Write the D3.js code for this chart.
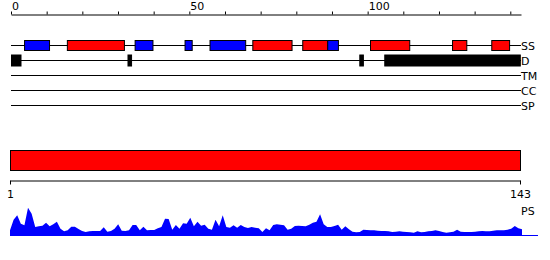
<!DOCTYPE html>
<html>
<head>
<meta charset="utf-8">
<script src="https://cdn.jsdelivr.net/npm/d3@7"></script>
<style>
  html, body { margin: 0; padding: 0; background: #fff; }
  svg { display: block; }
  text { font-family: "DejaVu Sans", Verdana, sans-serif; font-size: 11px; fill: #000; }
</style>
</head>
<body>
<svg id="chart" width="550" height="260"></svg>
<script>
// ---------- data ----------
const seqLength = 143;
const topTicks = [0, 10, 20, 30, 40, 50, 60, 70, 80, 90, 100, 110, 120, 130, 140];
const topTickLabels = [0, 50, 100];
const trackNames = ["SS", "D", "TM", "CC", "SP"];
// secondary structure elements: residue start, end (inclusive), type (H = red, E = blue)
const ssStart = [5, 17, 36, 50, 57, 69, 83, 90, 102, 125, 136];
const ssEnd   = [11, 32, 40, 51, 66, 79, 89, 92, 112, 128, 140];
const ssType  = ["E", "H", "E", "E", "E", "H", "H", "E", "H", "H", "H"];
// disordered regions
const disStart = [1, 34, 99, 106];
const disEnd   = [3, 34, 99, 143];
// domain bar
const domainStart = [1];
const domainEnd = [143];
const bottomTicks = [1, 143];
// PS profile, one value per residue
const psValues = [
  0.17,0.49,0.62,0.37,0.32,0.85,0.67,0.27,0.29,0.31,
  0.40,0.29,0.35,0.43,0.22,0.14,0.17,0.28,0.28,0.21,
  0.15,0.12,0.14,0.15,0.15,0.15,0.26,0.13,0.15,0.22,
  0.35,0.16,0.15,0.17,0.33,0.33,0.17,0.28,0.17,0.18,
  0.18,0.23,0.27,0.52,0.51,0.19,0.33,0.22,0.38,0.37,
  0.55,0.29,0.43,0.31,0.34,0.22,0.19,0.49,0.29,0.62,
  0.27,0.25,0.32,0.25,0.33,0.27,0.24,0.27,0.25,0.23,
  0.12,0.23,0.17,0.33,0.35,0.34,0.32,0.19,0.22,0.30,
  0.31,0.30,0.29,0.34,0.40,0.43,0.65,0.35,0.27,0.27,
  0.30,0.34,0.19,0.29,0.20,0.13,0.11,0.12,0.19,0.18,
  0.17,0.17,0.16,0.15,0.15,0.14,0.12,0.13,0.14,0.13,
  0.12,0.11,0.10,0.14,0.11,0.12,0.14,0.15,0.17,0.15,
  0.12,0.10,0.11,0.13,0.19,0.13,0.12,0.12,0.12,0.13,
  0.14,0.15,0.14,0.14,0.16,0.17,0.17,0.17,0.19,0.22,
  0.30,0.23,0.20
];

const colors = { H: "#ff0000", E: "#0000ff" };

// ---------- drawing ----------
const svg = d3.select("#chart");

const x = d3.scaleLinear().domain([0, seqLength]).range([11, 521]);
const trackY = d3.scalePoint().domain(trackNames).range([45.5, 105.5]);

// top axis
const topAxis = d3.axisTop(x)
  .tickValues(topTicks)
  .tickSize(3)
  .tickSizeOuter(0)
  .tickPadding(2)
  .tickFormat(d => topTickLabels.includes(d) ? d : "");
const gTop = svg.append("g").attr("transform", "translate(0,14.5)").call(topAxis);
gTop.select(".domain").attr("stroke", "#000");
gTop.selectAll(".tick line").attr("stroke", "#000");
gTop.selectAll(".tick text")
  .attr("text-anchor", "start")
  .attr("x", 0.5)
  .style("font-family", "'DejaVu Sans', Verdana, sans-serif")
  .style("font-size", "11px")
  .attr("fill", "#000");

// track lines and labels
const tracks = svg.append("g");
tracks.selectAll("line")
  .data(trackNames).join("line")
  .attr("x1", x(0)).attr("x2", x(seqLength))
  .attr("y1", d => trackY(d)).attr("y2", d => trackY(d))
  .attr("stroke", "#000").attr("stroke-width", 1);
tracks.selectAll("text")
  .data(trackNames).join("text")
  .attr("x", x(seqLength))
  .attr("y", d => trackY(d) + 4)
  .text(d => d);

// SS elements
const ss = ssStart.map((s, i) => ({ start: s, end: ssEnd[i], type: ssType[i] }));
svg.append("g").selectAll("rect")
  .data(ss).join("rect")
  .attr("x", d => x(d.start - 1) - 0.7)
  .attr("width", d => x(d.end) - x(d.start - 1))
  .attr("y", trackY("SS") - 5)
  .attr("height", 10)
  .attr("fill", d => colors[d.type])
  .attr("stroke", "#000").attr("stroke-width", 1);

// disorder
const dis = disStart.map((s, i) => ({ start: s, end: disEnd[i] }));
svg.append("g").selectAll("rect")
  .data(dis).join("rect")
  .attr("x", d => Math.max(x(d.start - 1) - 0.7, x(0) + 0.5))
  .attr("width", d => x(d.end) - Math.max(x(d.start - 1) - 0.7, x(0) + 0.5) - 0.7)
  .attr("y", trackY("D") - 5.5)
  .attr("height", 11)
  .attr("fill", "#000")
  .attr("stroke", "#000").attr("stroke-width", 1);

// domain bar + bottom axis
const xb = d3.scaleLinear().domain([1, seqLength]).range([10, 520]);
const dom = domainStart.map((s, i) => ({ start: s, end: domainEnd[i] }));
svg.append("g").selectAll("rect")
  .data(dom).join("rect")
  .attr("x", d => xb(d.start) + 0.5)
  .attr("width", d => xb(d.end) - xb(d.start))
  .attr("y", 150.5)
  .attr("height", 20)
  .attr("fill", "#ff0000")
  .attr("stroke", "#000").attr("stroke-width", 1);

const bottomAxis = d3.axisBottom(xb)
  .tickValues(bottomTicks)
  .tickSize(4)
  .tickSizeOuter(0)
  .tickPadding(6)
  .tickFormat(d3.format("d"));
const gBot = svg.append("g").attr("transform", "translate(0,180.5)").call(bottomAxis);
gBot.select(".domain").attr("stroke", "#000");
gBot.selectAll(".tick line").attr("stroke", "#000");
gBot.selectAll(".tick text")
  .style("font-family", "'DejaVu Sans', Verdana, sans-serif")
  .style("font-size", "11px")
  .attr("fill", "#000");

// PS profile
const xp = d3.scaleLinear().domain([1, seqLength]).range([10, 522]);
const yp = d3.scaleLinear().domain([0, 1]).range([236, 202.7]);
const area = d3.area()
  .x((d, i) => xp(i + 1))
  .y0(yp(0))
  .y1(d => yp(d));
svg.append("path")
  .datum(psValues)
  .attr("d", area)
  .attr("fill", "#0000ff");
svg.append("line")
  .attr("x1", xp(1)).attr("x2", 538)
  .attr("y1", 235.5).attr("y2", 235.5)
  .attr("stroke", "#0000ff");
svg.append("text")
  .attr("x", 521)
  .attr("y", 215)
  .text("PS");
</script>
</body>
</html>
